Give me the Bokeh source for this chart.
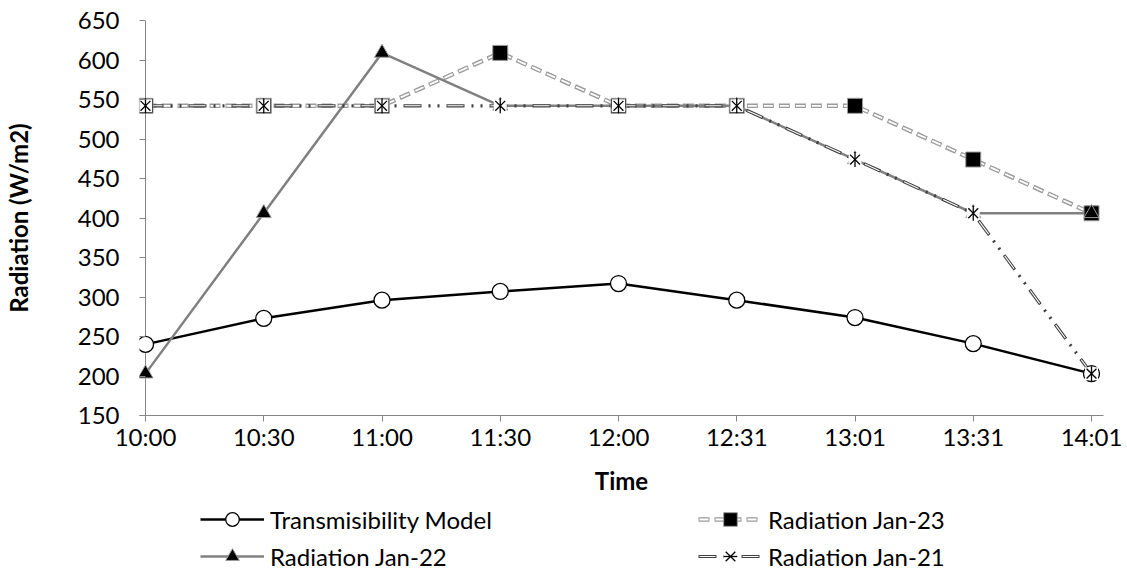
from bokeh.plotting import figure
from bokeh.layouts import column
from bokeh.models import Range1d, FixedTicker, Legend, LegendItem, Span
from bokeh.embed import file_html
from bokeh.resources import INLINE
import numpy as np

# Measured irradiance over the afternoon window
times = ["10:00", "10:30", "11:00", "11:30", "12:00", "12:31", "13:01", "13:31", "14:01"]
transmisibility = [240, 273, 296, 307, 317, 296, 274, 241, 203]
jan23 = [542, 542, 542, 609, 542, 542, 542, 474, 406]
jan22 = [203, 406, 609, 542, 542, 542, 474, 406, 406]
jan21 = [542, 542, 542, 542, 542, 542, 474, 406, 203]

FONT = "Lato"
FONT_SIZE = "24px"
AXIS_GRAY = "#868686"

x = list(range(len(times)))

# series styles, shared by the chart and the legend strip
S_TM_LINE = dict(line_color="black", line_width=2.5)
S_TM_MARK = dict(marker="circle", fill_color="white", line_color="black", line_width=1.3)
S_23_OUT = dict(line_color="#9a9a9a", line_width=4.5, line_dash="11 5")
S_23_IN = dict(line_color="white", line_width=1.8, line_dash="9 7", line_dash_offset=15)
S_23_MARK = dict(marker="square", fill_color="black", line_color="#9a9a9a", line_width=1)
S_22_LINE = dict(line_color="#808080", line_width=2.5)
S_22_MARK = dict(marker="triangle", fill_color="black", line_color="#9a9a9a", line_width=1)
S_21_OUT = dict(line_color="#404040", line_width=3.2, line_dash="18 7 2 7 2 7")
S_21_IN = dict(line_color="white", line_width=1.1, line_dash="16 27", line_dash_offset=42)
S_21_BG = dict(marker="square", fill_color="white", line_color=None)
S_21_X = dict(marker="x", line_color="black", line_width=1.3)
S_21_V = dict(marker="dash", angle=np.pi / 2, line_color="black", line_width=1.3)

p = figure(
    width=1127, height=500,
    x_range=Range1d(-6 / 118.25, 8 + 12 / 118.25), y_range=Range1d(150, 650),
    output_backend="svg", toolbar_location=None,
    min_border_left=139, min_border_right=24,
    min_border_top=20, min_border_bottom=85,
)
p.outline_line_color = None
p.xgrid.visible = False
p.ygrid.visible = False

# vertical value axis line at the first time stamp
p.add_layout(Span(location=0, dimension="height", line_color=AXIS_GRAY,
                  line_width=1, level="underlay"))

# --- lines (all drawn before markers) ---
p.line(x, transmisibility, **S_TM_LINE)
p.line(x, jan23, **S_23_OUT)
p.line(x, jan23, **S_23_IN)
p.line(x, jan22, **S_22_LINE)
p.line(x, jan21, **S_21_OUT)
p.line(x, jan21, **S_21_IN)

# --- markers ---
p.scatter(x, transmisibility, size=16, **S_TM_MARK)
p.scatter(x, jan23, size=15, **S_23_MARK)
p.scatter(x, jan22, size=15, **S_22_MARK)
p.scatter(x, jan21, size=13, **S_21_BG)
p.scatter(x, jan21, size=14, **S_21_X)
p.scatter(x, jan21, size=15, **S_21_V)

# --- axes ---
for ax in (p.xaxis[0], p.yaxis[0]):
    ax.axis_line_color = AXIS_GRAY
    ax.major_tick_line_color = AXIS_GRAY
    ax.major_tick_out = 6
    ax.major_tick_in = 0
    ax.minor_tick_line_color = None
    ax.major_label_text_font = FONT
    ax.major_label_text_font_size = FONT_SIZE
    ax.major_label_text_color = "black"
    ax.axis_label_text_font = FONT
    ax.axis_label_text_font_size = FONT_SIZE
    ax.axis_label_text_font_style = "bold"
    ax.axis_label_text_color = "black"

p.xaxis.ticker = FixedTicker(ticks=x)
p.xaxis.major_label_overrides = {i: t for i, t in enumerate(times)}
p.xaxis.axis_label = "Time"
p.xaxis.major_label_standoff = 0
p.xaxis.axis_label_standoff = 12

p.yaxis.ticker = FixedTicker(ticks=list(range(150, 651, 50)))
p.yaxis.axis_line_color = None
p.yaxis.major_tick_out = 0
p.yaxis.major_tick_in = 6
p.yaxis.axis_label = "Radiation (W/m2)"
p.yaxis.major_label_standoff = 20
p.yaxis.axis_label_standoff = 42

# --- legend strip under the chart ---
# its renderers carry the series but sit outside this strip's ranges,
# so only their legend swatches are drawn
lf = figure(
    width=1127, height=72, x_range=Range1d(-100, -99), y_range=Range1d(-100, -99),
    x_axis_type=None, y_axis_type=None,
    output_backend="svg", toolbar_location=None,
    min_border=0,
)
lf.outline_line_color = None
lf.xgrid.visible = False
lf.ygrid.visible = False

r_tm = [lf.line(x, transmisibility, **S_TM_LINE),
        lf.scatter(x, transmisibility, **S_TM_MARK)]
r_23 = [lf.line(x, jan23, **S_23_OUT), lf.line(x, jan23, **S_23_IN),
        lf.scatter(x, jan23, **S_23_MARK)]
r_22 = [lf.line(x, jan22, **S_22_LINE), lf.scatter(x, jan22, **S_22_MARK)]
r_21 = [lf.line(x, jan21, **S_21_OUT), lf.line(x, jan21, **S_21_IN),
        lf.scatter(x, jan21, **S_21_BG), lf.scatter(x, jan21, **S_21_X),
        lf.scatter(x, jan21, **S_21_V)]


def make_legend(items, y_off):
    return Legend(
        items=items, orientation="horizontal", location=(61, y_off),
        glyph_width=64, glyph_height=34, label_height=25,
        label_standoff=6, label_width=240, spacing=188,
        padding=0, margin=0,
        label_text_font=FONT, label_text_font_size=FONT_SIZE,
        label_text_color="black",
        border_line_color=None, background_fill_alpha=0,
    )


lf.add_layout(make_legend([
    LegendItem(label="Transmisibility Model", renderers=r_tm),
    LegendItem(label="Radiation Jan-23", renderers=r_23),
], 36), "center")
lf.add_layout(make_legend([
    LegendItem(label="Radiation Jan-22", renderers=r_22),
    LegendItem(label="Radiation Jan-21", renderers=r_21),
], -1), "center")

open("out.html", "w").write(file_html(column(p, lf, spacing=0), INLINE))
